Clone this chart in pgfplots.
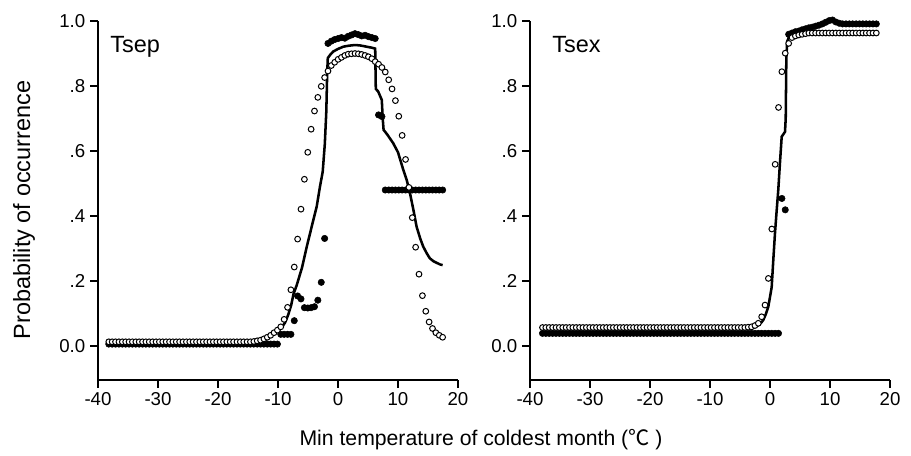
\documentclass[border=0pt]{standalone}
\usepackage{fontspec}
\setmainfont{Liberation Sans}
\newfontfamily\cjk{Noto Sans CJK SC}
\usepackage{pgfplots}
\pgfplotsset{compat=1.18}
\usepackage{pgfplotstable}

\newcommand{\ticks}{\fontsize{14pt}{16pt}\selectfont}
\newcommand{\lab}{\fontsize{17.6pt}{20pt}\selectfont}
\newcommand{\xlab}{\fontsize{15.9pt}{18pt}\selectfont}

% Tsep: x, open circles (o), filled dots (f)
\pgfplotstableread{
x o f
-38.20 0.012 0.005
-37.64 0.012 0.005
-37.08 0.012 0.005
-36.51 0.012 0.005
-35.95 0.012 0.005
-35.39 0.012 0.005
-34.83 0.012 0.005
-34.27 0.012 0.005
-33.70 0.012 0.005
-33.14 0.012 0.005
-32.58 0.012 0.005
-32.02 0.012 0.005
-31.46 0.012 0.005
-30.89 0.012 0.005
-30.33 0.012 0.005
-29.77 0.012 0.005
-29.21 0.012 0.005
-28.65 0.012 0.005
-28.08 0.012 0.005
-27.52 0.012 0.005
-26.96 0.012 0.005
-26.40 0.012 0.005
-25.84 0.012 0.005
-25.27 0.012 0.005
-24.71 0.012 0.005
-24.15 0.012 0.005
-23.59 0.012 0.005
-23.03 0.012 0.005
-22.46 0.012 0.005
-21.90 0.012 0.005
-21.34 0.012 0.005
-20.78 0.012 0.005
-20.22 0.012 0.005
-19.65 0.012 0.005
-19.09 0.012 0.005
-18.53 0.012 0.005
-17.97 0.012 0.005
-17.41 0.012 0.005
-16.84 0.012 0.005
-16.28 0.012 0.005
-15.72 0.012 0.005
-15.16 0.012 0.005
-14.60 0.012 0.005
-14.03 0.013 0.005
-13.47 0.015 0.005
-12.91 0.017 0.005
-12.35 0.021 0.005
-11.79 0.026 0.005
-11.22 0.032 0.005
-10.66 0.040 0.005
-10.10 0.048 0.005
-9.54 0.058 0.035
-8.98 0.081 0.035
-8.41 0.118 0.035
-7.85 0.172 0.035
-7.29 0.242 0.077
-6.73 0.328 0.153
-6.17 0.420 0.144
-5.60 0.512 0.117
-5.04 0.595 0.116
-4.48 0.666 0.117
-3.92 0.722 0.120
-3.36 0.764 0.140
-2.79 0.798 0.195
-2.23 0.825 0.330
-1.67 0.845 0.930
-1.11 0.862 0.937
-0.55 0.872 0.942
0.02 0.881 0.945
0.58 0.887 0.948
1.14 0.893 0.946
1.70 0.897 0.952
2.26 0.898 0.956
2.83 0.899 0.960
3.39 0.898 0.957
3.95 0.896 0.953
4.51 0.893 0.955
5.07 0.889 0.951
5.64 0.883 0.948
6.20 0.874 0.945
6.76 0.866 0.710
7.32 0.856 0.705
7.88 0.842 0.479
8.45 0.818 0.479
9.01 0.790 0.479
9.57 0.754 0.479
10.13 0.706 0.479
10.69 0.647 0.479
11.26 0.573 0.479
11.82 0.487 0.479
12.38 0.394 0.479
12.94 0.303 0.479
13.50 0.220 0.479
14.07 0.154 0.479
14.63 0.106 0.479
15.19 0.073 0.479
15.75 0.053 0.479
16.31 0.040 0.479
16.88 0.032 0.479
17.44 0.026 0.479
}\sepdata

% Tsex: x, open circles (o), filled dots (f)
\pgfplotstableread{
x o f
-37.92 0.056 0.038
-37.36 0.056 0.038
-36.80 0.056 0.038
-36.23 0.056 0.038
-35.67 0.056 0.038
-35.11 0.056 0.038
-34.55 0.056 0.038
-33.99 0.056 0.038
-33.42 0.056 0.038
-32.86 0.056 0.038
-32.30 0.056 0.038
-31.74 0.056 0.038
-31.18 0.056 0.038
-30.61 0.056 0.038
-30.05 0.056 0.038
-29.49 0.056 0.038
-28.93 0.056 0.038
-28.37 0.056 0.038
-27.80 0.056 0.038
-27.24 0.056 0.038
-26.68 0.056 0.038
-26.12 0.056 0.038
-25.56 0.056 0.038
-24.99 0.056 0.038
-24.43 0.056 0.038
-23.87 0.056 0.038
-23.31 0.056 0.038
-22.75 0.056 0.038
-22.18 0.056 0.038
-21.62 0.056 0.038
-21.06 0.056 0.038
-20.50 0.056 0.038
-19.94 0.056 0.038
-19.37 0.056 0.038
-18.81 0.056 0.038
-18.25 0.056 0.038
-17.69 0.056 0.038
-17.13 0.056 0.038
-16.56 0.056 0.038
-16.00 0.056 0.038
-15.44 0.056 0.038
-14.88 0.056 0.038
-14.32 0.056 0.038
-13.75 0.056 0.038
-13.19 0.056 0.038
-12.63 0.056 0.038
-12.07 0.056 0.038
-11.51 0.056 0.038
-10.94 0.056 0.038
-10.38 0.056 0.038
-9.82 0.056 0.038
-9.26 0.056 0.038
-8.70 0.056 0.038
-8.13 0.056 0.038
-7.57 0.056 0.038
-7.01 0.056 0.038
-6.45 0.056 0.038
-5.89 0.056 0.038
-5.32 0.056 0.038
-4.76 0.056 0.038
-4.20 0.056 0.038
-3.64 0.057 0.038
-3.08 0.058 0.038
-2.51 0.062 0.038
-1.95 0.069 0.038
-1.39 0.089 0.038
-0.83 0.125 0.038
-0.27 0.207 0.038
0.30 0.359 0.038
0.86 0.558 0.038
1.42 0.733 0.038
1.98 0.843 0.453
2.54 0.900 0.418
3.11 0.930 0.958
3.67 0.948 0.962
4.23 0.953 0.966
4.79 0.956 0.968
5.35 0.958 0.972
5.92 0.960 0.975
6.48 0.962 0.978
7.04 0.962 0.980
7.60 0.962 0.983
8.16 0.962 0.986
8.73 0.962 0.990
9.29 0.962 0.995
9.85 0.962 1.000
10.41 0.962 1.002
10.97 0.962 0.996
11.54 0.962 0.992
12.10 0.962 0.990
12.66 0.962 0.990
13.22 0.962 0.990
13.78 0.962 0.990
14.35 0.962 0.990
14.91 0.962 0.990
15.47 0.962 0.990
16.03 0.962 0.990
16.59 0.962 0.990
17.16 0.962 0.990
17.72 0.962 0.990
}\sexdata

\pgfplotsset{
  panel/.style={
    scale only axis, width=270pt, height=269.5pt,
    anchor=south west,
    xmin=-40, xmax=20, ymin=-0.1055, ymax=1,
    axis x line*=bottom, axis y line*=left,
    axis line style={-, line width=1.5pt},
    xtick={-40,-30,-20,-10,0,10,20},
    xticklabels={-40,-30,-20,-10,0,10,20},
    ytick={0,0.2,0.4,0.6,0.8,1},
    yticklabels={0.0,.2,.4,.6,.8,1.0},
    tick align=outside, major tick length=6pt,
    major tick style={black, line width=1.5pt},
    tick label style={font=\ticks},
    clip=false,
  },
  open/.style={only marks, mark=*, mark size=2.15pt,
    mark options={fill=white, draw=black, line width=0.75pt}},
  full/.style={only marks, mark=*, mark size=2.4pt,
    mark options={fill=black, draw=black}},
  fit/.style={no marks, black, line width=1.9pt},
}

\begin{document}
\begin{tikzpicture}
\path[use as bounding box] (0,0) rectangle (683.25pt,342pt);

\begin{axis}[panel, at={(73.5pt,57pt)}]
\addplot[full] table[x=x, y=f] {\sepdata};
\addplot[fit] coordinates {
(-38.2,0.006) (-15.0,0.006) (-14.0,0.008) (-13.3,0.010) (-12.6,0.014)
(-12.0,0.019) (-11.3,0.030) (-10.6,0.040) (-9.9,0.048) (-9.4,0.055)
(-8.8,0.072) (-8.3,0.095) (-7.8,0.125) (-7.4,0.16) (-6.9,0.185)
(-6.0,0.24) (-5.2,0.305) (-4.4,0.365) (-3.55,0.428) (-3.0,0.49)
(-2.55,0.535) (-2.2,0.62) (-1.95,0.72) (-1.8,0.84) (-1.7,0.885)
(-1.3,0.895) (-0.8,0.905) (0.0,0.913) (0.9,0.92) (1.8,0.923)
(2.8,0.925) (3.6,0.924) (4.2,0.922) (5.0,0.919) (5.6,0.917)
(6.2,0.914) (6.3,0.79) (6.7,0.782) (7.3,0.756) (7.45,0.70)
(7.6,0.664) (8.2,0.65) (9.2,0.623) (10.0,0.595) (10.9,0.54)
(11.45,0.51) (12.0,0.469) (12.6,0.415) (13.1,0.366) (13.7,0.33)
(14.2,0.305) (14.8,0.284) (15.3,0.269) (15.9,0.26) (16.45,0.255)
(17.0,0.25) (17.44,0.248)
};
\addplot[open] table[x=x, y=o] {\sepdata};
\end{axis}

\begin{axis}[panel, at={(397.5pt,57pt)}]
\addplot[full] table[x=x, y=f] {\sexdata};
\addplot[fit] coordinates {
(-37.9,0.058) (-3.0,0.058) (-2.0,0.062) (-1.5,0.07) (-1.12,0.079)
(-0.7,0.097) (-0.28,0.12) (0.28,0.18) (0.55,0.264) (0.83,0.346)
(1.12,0.418) (1.38,0.479) (1.65,0.56) (1.95,0.643) (2.5,0.658)
(2.62,0.70) (2.72,0.88) (2.85,0.935) (3.33,0.958) (4.2,0.966)
(5.0,0.971) (6.67,0.98) (7.78,0.987) (9.0,0.995) (9.8,1.0)
(10.55,0.997) (11.67,0.992) (17.7,0.99)
};
\addplot[open] table[x=x, y=o] {\sexdata};
\end{axis}

\node[anchor=base west, font=\lab, inner sep=0pt] at (82.5pt,302.25pt) {Tsep};
\node[anchor=base west, font=\lab, inner sep=0pt] at (414pt,302.25pt) {Tsex};
\node[rotate=90, font=\lab] at (18pt,184.5pt) {Probability of occurrence};
\node[anchor=base, font=\xlab] at (360.75pt,7.5pt) {Min temperature of coldest month ({\cjk ℃} )};
\end{tikzpicture}
\end{document}
